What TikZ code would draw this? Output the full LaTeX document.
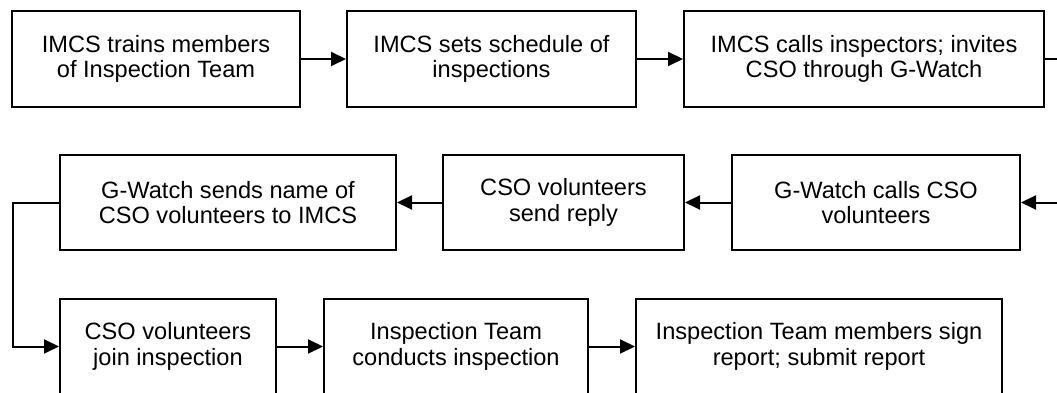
\documentclass[tikz,border=0pt]{standalone}
\usepackage{fontspec}
\setmainfont{Liberation Sans}
\usetikzlibrary{arrows.meta}
\begin{document}
\begin{tikzpicture}[x=1pt,y=-1pt,
  box/.style={draw, line width=2pt, rectangle, inner sep=0pt, align=center,
    font=\fontsize{23.6}{25.5}\selectfont},
  conn/.style={line width=2pt, -{Triangle[length=15pt,width=14pt]}},
  plain/.style={line width=2pt}]
\useasboundingbox (0,0) rectangle (1057,393);
\clip (0,0) rectangle (1057,393);
% row 1
\node[box, minimum width=288pt, minimum height=96pt] (b1) at (156,59) {IMCS trains members\\of Inspection Team};
\node[box, minimum width=289pt, minimum height=96pt] (b2) at (491.5,59) {IMCS sets schedule of\\inspections};
\node[box, minimum width=360pt, minimum height=96pt] (b3) at (864,59) {IMCS calls inspectors; invites\\CSO through G-Watch};
% row 2
\node[box, minimum width=288pt, minimum height=95pt] (b4) at (876,202.5) {G-Watch calls CSO\\volunteers};
\node[box, minimum width=241pt, minimum height=95pt] (b5) at (563.5,202.5) {CSO volunteers\\send reply};
\node[box, minimum width=336pt, minimum height=95pt] (b6) at (228,202.5) {G-Watch sends name of\\CSO volunteers to IMCS};
% row 3
\node[box, minimum width=216pt, minimum height=96pt] (b7) at (168,346.5) {CSO volunteers\\join inspection};
\node[box, minimum width=264pt, minimum height=96pt] (b8) at (456,346.5) {Inspection Team\\conducts inspection};
\node[box, minimum width=366pt, minimum height=96pt] (b9) at (819,346.5) {Inspection Team members sign\\report; submit report};
% free ends at right edge
\coordinate (r1) at (1058,59);
\coordinate (r2) at (1058,202.5);
\coordinate (lx) at (13,0);
% connectors
\draw[conn] (b1.east) -- (b2.west);
\draw[conn] (b2.east) -- (b3.west);
\draw[plain] (b3.east) -- (r1);
\draw[conn] (r2) -- (b4.east);
\draw[conn] (b4.west) -- (b5.east);
\draw[conn] (b5.west) -- (b6.east);
\draw[conn] (b6.west) -- (b6.west -| lx) |- (b7.west);
\draw[conn] (b7.east) -- (b8.west);
\draw[conn] (b8.east) -- (b9.west);
\end{tikzpicture}
\end{document}
